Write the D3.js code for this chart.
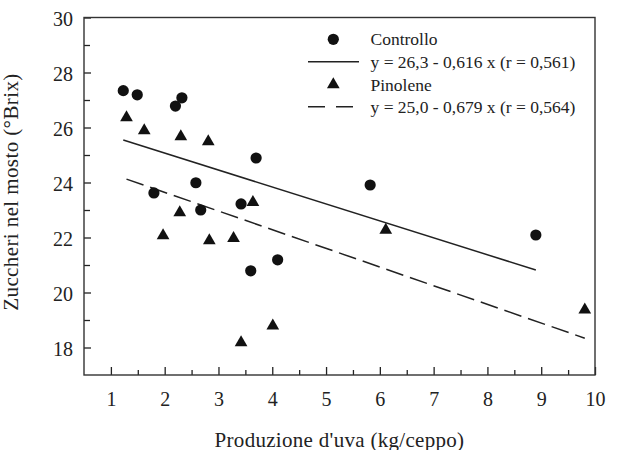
<!DOCTYPE html>
<html>
<head>
<meta charset="utf-8">
<script src="https://cdn.jsdelivr.net/npm/d3@7"></script>
<style>
  body { margin: 0; background: #fff; }
  svg text { font-family: "Liberation Serif", "Tinos", "Times New Roman", Times, "DejaVu Serif", serif !important; }
</style>
</head>
<body>
<svg class="chart"></svg>
<script>
// Controllo (circles)
var controlloX = [1.23, 1.49, 2.20, 2.32, 3.70, 2.58, 1.80, 2.67, 3.42, 3.60, 4.10, 5.82, 8.90];
var controlloY = [27.34, 27.19, 26.78, 27.08, 24.89, 23.99, 23.62, 23.00, 23.22, 20.79, 21.19, 23.91, 22.09];

// Pinolene (triangles)
var pinoleneX = [1.29, 1.62, 2.30, 2.81, 2.28, 3.64, 1.97, 2.83, 3.28, 3.42, 4.01, 6.11, 9.81];
var pinoleneY = [26.36, 25.89, 25.67, 25.49, 22.91, 23.28, 22.07, 21.89, 21.97, 18.18, 18.79, 22.27, 19.37];

// regression: y = a + b x
var seriesNames = ['Controllo', 'Pinolene'];
var intercepts = [26.3, 25.0];
var slopes = [-0.616, -0.679];
var equations = ['y = 26,3 - 0,616 x (r = 0,561)', 'y = 25,0 - 0,679 x (r = 0,564)'];

var xTicks = [1, 2, 3, 4, 5, 6, 7, 8, 9, 10];
var yTicks = [18, 20, 22, 24, 26, 28, 30];

(function() {
  'use strict';
var width = 617,
    height = 450;
var left = 84, right = 595, top = 17.5, bottom = 375;
var serif = '"Liberation Serif", "Tinos", "Times New Roman", Times, "DejaVu Serif", serif';

var x = d3.scaleLinear()
    .domain([0.5, 10])
    .range([left, right]);

var y = d3.scaleLinear()
    .domain([17, 30])
    .range([bottom, top]);

var svg = d3.select('.chart')
    .attr('width', width)
    .attr('height', height)
    .attr('font-family', serif);

var ink = '#222';

// minor ticks
svg.append('g')
    .attr('transform', 'translate(0,' + bottom + ')')
    .call(d3.axisBottom(x).tickValues(d3.range(1.5, 10, 1)).tickSize(-5).tickSizeOuter(0).tickFormat(''))
    .call(function(g) { g.select('.domain').remove(); });

svg.append('g')
    .attr('transform', 'translate(' + left + ',0)')
    .call(d3.axisLeft(y).tickValues(d3.range(19, 30, 2)).tickSize(-6).tickSizeOuter(0).tickFormat(''))
    .call(function(g) { g.select('.domain').remove(); });

// major ticks + labels
var xAxis = svg.append('g')
    .attr('transform', 'translate(0,' + bottom + ')')
    .call(d3.axisBottom(x).tickValues(xTicks).tickSize(-8).tickSizeOuter(0).tickPadding(17).tickFormat(d3.format('d')));

var yAxis = svg.append('g')
    .attr('transform', 'translate(' + left + ',0)')
    .call(d3.axisLeft(y).tickValues(yTicks).tickSize(-7).tickSizeOuter(0).tickPadding(11).tickFormat(d3.format('d')));

svg.selectAll('g').attr('font-family', serif);
svg.selectAll('.tick line').attr('stroke', ink).attr('stroke-width', 1.3);
svg.selectAll('.domain').remove();
svg.selectAll('.tick text')
    .attr('fill', ink)
    .attr('font-size', 20);
yAxis.selectAll('.tick text').attr('dy', '0.4em');

// frame
svg.append('rect')
    .attr('x', left)
    .attr('y', top)
    .attr('width', right - left)
    .attr('height', bottom - top)
    .attr('fill', 'none')
    .attr('stroke', '#333')
    .attr('stroke-width', 1.4);

// axis titles
svg.append('text')
    .attr('x', (left + right) / 2)
    .attr('y', 446.5)
    .attr('text-anchor', 'middle')
    .attr('fill', ink)
    .attr('font-size', 21)
    .style('letter-spacing', '0.3px')
    .text("Produzione d'uva (kg/ceppo)");

svg.append('text')
    .attr('transform', 'translate(18,' + 192 + ') rotate(-90)')
    .attr('text-anchor', 'middle')
    .attr('fill', ink)
    .attr('font-size', 21)
    .style('letter-spacing', '0.4px')
    .text('Zuccheri nel mosto (°Brix)');

// regression lines
var xs = [controlloX, pinoleneX];
var dashes = [null, '18,7'];
[0, 1].forEach(function(i) {
  var ext = d3.extent(xs[i]);
  svg.append('line')
      .attr('x1', x(ext[0]))
      .attr('y1', y(intercepts[i] + slopes[i] * ext[0]))
      .attr('x2', x(ext[1]))
      .attr('y2', y(intercepts[i] + slopes[i] * ext[1]))
      .attr('stroke', ink)
      .attr('stroke-width', 1.5)
      .attr('stroke-dasharray', dashes[i]);
});

// points
svg.append('g').selectAll('circle')
    .data(d3.zip(controlloX, controlloY))
  .enter().append('circle')
    .attr('cx', function(d) { return x(d[0]); })
    .attr('cy', function(d) { return y(d[1]); })
    .attr('r', 5.6)
    .attr('fill', '#111');

var tri = d3.symbol().type(d3.symbolTriangle).size(70);
svg.append('g').selectAll('path')
    .data(d3.zip(pinoleneX, pinoleneY))
  .enter().append('path')
    .attr('d', tri)
    .attr('transform', function(d) { return 'translate(' + x(d[0]) + ',' + y(d[1]) + ')'; })
    .attr('fill', '#111');

// legend
var legend = svg.append('g').attr('font-size', 17.5).attr('font-family', serif).attr('fill', ink);

legend.append('circle').attr('cx', 333.3).attr('cy', 39.3).attr('r', 5.6).attr('fill', '#111');
legend.append('text').attr('x', 370.5).attr('y', 45).text(seriesNames[0]);
legend.append('line').attr('x1', 308).attr('x2', 359).attr('y1', 61.7).attr('y2', 61.7)
    .attr('stroke', ink).attr('stroke-width', 1.5);
legend.append('text').attr('x', 370.5).attr('y', 68.3).text(equations[0]);

legend.append('path').attr('d', tri).attr('transform', 'translate(333.3,84.5)').attr('fill', '#111');
legend.append('text').attr('x', 370.5).attr('y', 91).text(seriesNames[1]);
legend.append('line').attr('x1', 308).attr('x2', 353).attr('y1', 106.7).attr('y2', 106.7)
    .attr('stroke', ink).attr('stroke-width', 1.5).attr('stroke-dasharray', '17,11');
legend.append('text').attr('x', 370.5).attr('y', 113.3).text(equations[1]);
}());
</script>
</body>
</html>
